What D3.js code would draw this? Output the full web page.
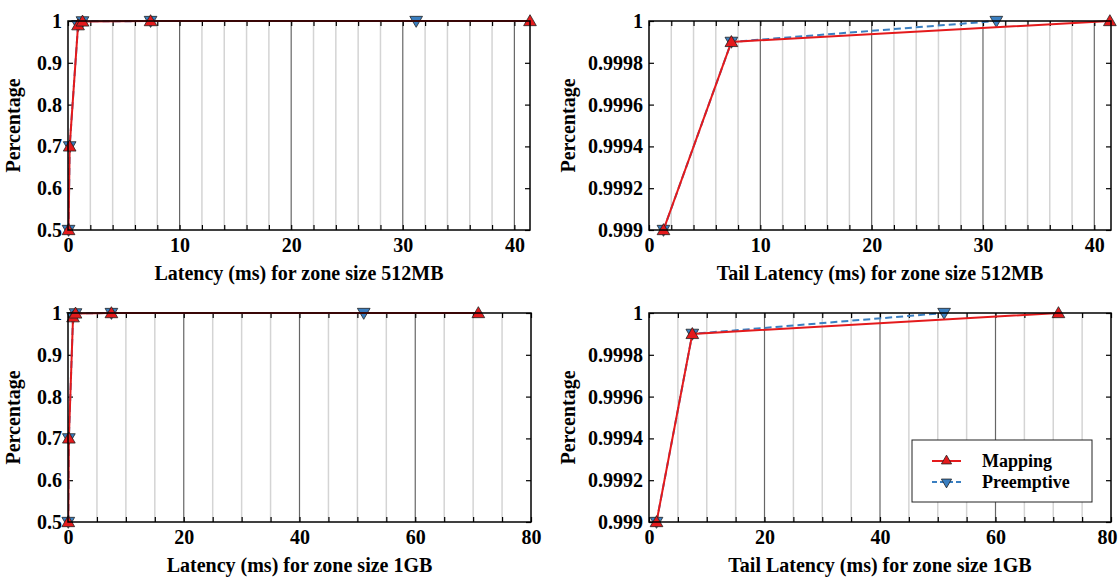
<!DOCTYPE html>
<html lang="en">
<head>
    <meta charset="utf-8">
    <title>Latency CDF</title>
    <script src="https://d3js.org/d3.v7.min.js"></script>
    <style>
        body {
            margin: 0;
            background: #fff;
        }
        text {
            font-family: "Liberation Serif", "Times New Roman", serif;
            font-weight: bold;
            fill: #000;
        }
    </style>
</head>
<body>
    <svg id="chart" width="1118" height="577"></svg>

    <script>
        // percentiles reached at each latency sample
        const percentiles = [0.5, 0.7, 0.99, 0.999, 0.9999, 1];

        // latency (ms) per percentile, zone size 512MB
        const mapping512 = [0.05, 0.15, 0.9, 1.3, 7.4, 41.4];
        const preemptive512 = [0.05, 0.15, 0.9, 1.3, 7.4, 31.2];

        // latency (ms) per percentile, zone size 1GB
        const mapping1g = [0.05, 0.15, 0.87, 1.3, 7.5, 70.9];
        const preemptive1g = [0.05, 0.15, 0.87, 1.3, 7.5, 51.1];

        const fullTicks = [0.5, 0.6, 0.7, 0.8, 0.9, 1];
        const tailTicks = [0.999, 0.9992, 0.9994, 0.9996, 0.9998, 1];

        const seriesNames = ["Mapping", "Preemptive"];
        const colors = { Mapping: "#e41a1c", Preemptive: "#3a7fc1" };

        const svg = d3.select("#chart");
        const W = 1118;

        const panels = [
            { box: [68, 530, 21, 230], xMax: 41.4, xMinor: 2, xMajor: 10, yTicks: fullTicks, yOff: 48,
              label: "Latency (ms) for zone size 512MB", m: mapping512, p: preemptive512 },
            { box: [649, 1111, 21, 230], xMax: 41.5, xMinor: 2, xMajor: 10, yTicks: tailTicks, yOff: 74,
              label: "Tail Latency (ms) for zone size 512MB", m: mapping512, p: preemptive512 },
            { box: [68, 531, 313, 522], xMax: 80, xMinor: 5, xMajor: 20, yTicks: fullTicks, yOff: 48,
              label: "Latency (ms) for zone size 1GB", m: mapping1g, p: preemptive1g },
            { box: [649, 1111, 313, 522], xMax: 80, xMinor: 5, xMajor: 20, yTicks: tailTicks, yOff: 74,
              label: "Tail Latency (ms) for zone size 1GB", m: mapping1g, p: preemptive1g, legend: true }
        ];

        const fmt = d => String(+d.toFixed(4));

        panels.forEach((pn, i) => {
            const [x0, x1, y0, y1] = pn.box;
            const x = d3.scaleLinear().domain([0, pn.xMax]).range([x0, x1]);
            const y = d3.scaleLinear().domain([pn.yTicks[0], 1]).range([y1, y0]);
            const g = svg.append("g");

            g.append("clipPath").attr("id", "clip" + i)
                .append("rect").attr("x", x0).attr("y", y0 - 1)
                .attr("width", x1 - x0).attr("height", y1 - y0 + 2);

            // vertical grid
            const minor = d3.range(pn.xMinor, pn.xMax, pn.xMinor).filter(v => v % pn.xMajor !== 0);
            const major = d3.range(pn.xMajor, pn.xMax, pn.xMajor);
            g.selectAll(".minor").data(minor).enter().append("line")
                .attr("x1", d => x(d)).attr("x2", d => x(d))
                .attr("y1", y0).attr("y2", y1)
                .style("stroke", "#d4d4d4").style("stroke-width", 1.5);
            g.selectAll(".major").data(major).enter().append("line")
                .attr("x1", d => x(d)).attr("x2", d => x(d))
                .attr("y1", y0).attr("y2", y1)
                .style("stroke", "#666").style("stroke-width", 1.2);

            // axes with inward ticks
            const xTickVals = d3.range(0, pn.xMax + 0.001, pn.xMinor);
            g.append("g").attr("transform", `translate(0,${y1})`)
                .call(d3.axisBottom(x).tickValues(xTickVals).tickSize(-5).tickPadding(8)
                    .tickFormat(d => d % pn.xMajor === 0 ? d : ""))
                .call(a => a.select(".domain").remove())
                .call(a => a.selectAll("text").style("font-size", "20px"))
                // keep a label at the page edge inside the page
                .call(a => a.selectAll("text").filter(d => x(d) + 10 > W)
                    .attr("text-anchor", "end").attr("x", d => W - 1 - x(d)));
            g.append("g").attr("transform", `translate(0,${y0})`)
                .call(d3.axisTop(x).tickValues(xTickVals).tickSize(-5).tickFormat(""))
                .call(a => a.select(".domain").remove());
            g.append("g").attr("transform", `translate(${x0},0)`)
                .call(d3.axisLeft(y).tickValues(pn.yTicks).tickSize(-5).tickPadding(6).tickFormat(fmt))
                .call(a => a.select(".domain").remove())
                .call(a => a.selectAll("text").style("font-size", "20px"));
            g.append("g").attr("transform", `translate(${x1},0)`)
                .call(d3.axisRight(y).tickValues(pn.yTicks).tickSize(-5).tickFormat(""))
                .call(a => a.select(".domain").remove());
            g.selectAll(".tick line").style("stroke", "#000").style("stroke-width", 1.2);
            g.selectAll(".tick text").attr("fill", "#000");

            // series, Preemptive under Mapping
            const line = d3.line().x(d => x(d[0])).y(d => y(d[1]));
            [["Preemptive", pn.p], ["Mapping", pn.m]].forEach(([name, vals]) => {
                const pts = vals.map((v, k) => [v, percentiles[k]]);
                g.append("path").datum(pts)
                    .attr("clip-path", `url(#clip${i})`)
                    .attr("d", line)
                    .style("fill", "none")
                    .style("stroke", colors[name])
                    .style("stroke-width", 2)
                    .style("stroke-dasharray", name === "Preemptive" ? "7,4" : null);
                g.selectAll(".pt-" + name).data(pts.filter(d => d[1] >= pn.yTicks[0]))
                    .enter().append("path")
                    .attr("d", d3.symbol(d3.symbolTriangle, 70))
                    .attr("transform", d => `translate(${x(d[0])},${y(d[1]) + (name === "Mapping" ? 1 : -1)}) rotate(${name === "Mapping" ? 0 : 180})`)
                    .style("fill", colors[name])
                    .style("stroke", "#222")
                    .style("stroke-width", 0.8);
            });

            // frame
            g.append("rect").attr("x", x0).attr("y", y0)
                .attr("width", x1 - x0).attr("height", y1 - y0)
                .style("fill", "none").style("stroke", "#000").style("stroke-width", 1.5);

            // labels
            g.append("text")
                .attr("x", (x0 + x1) / 2).attr("y", y1 + 50)
                .attr("text-anchor", "middle")
                .style("font-size", "20px")
                .text(pn.label);
            g.append("text")
                .attr("transform", `translate(${x0 - pn.yOff},${(y0 + y1) / 2}) rotate(-90)`)
                .attr("text-anchor", "middle")
                .style("font-size", "20px")
                .text("Percentage");

            if (pn.legend) {
                const lg = g.append("g").attr("transform", "translate(912,440)");
                lg.append("rect").attr("width", 180).attr("height", 62)
                    .style("fill", "#fff").style("stroke", "#222").style("stroke-width", 1);
                seriesNames.forEach((name, k) => {
                    const ly = 21 + k * 21;
                    lg.append("line").attr("x1", 20).attr("x2", 49).attr("y1", ly).attr("y2", ly)
                        .style("stroke", colors[name]).style("stroke-width", 2)
                        .style("stroke-dasharray", name === "Preemptive" ? "5,3" : null);
                    lg.append("path")
                        .attr("d", d3.symbol(d3.symbolTriangle, 45))
                        .attr("transform", `translate(34.5,${ly}) rotate(${name === "Mapping" ? 0 : 180})`)
                        .style("fill", colors[name]).style("stroke", "#222").style("stroke-width", 0.8);
                    lg.append("text").attr("x", 70).attr("y", ly + 6)
                        .style("font-size", "18px").text(name);
                });
            }
        });
    </script>
</body>
</html>
